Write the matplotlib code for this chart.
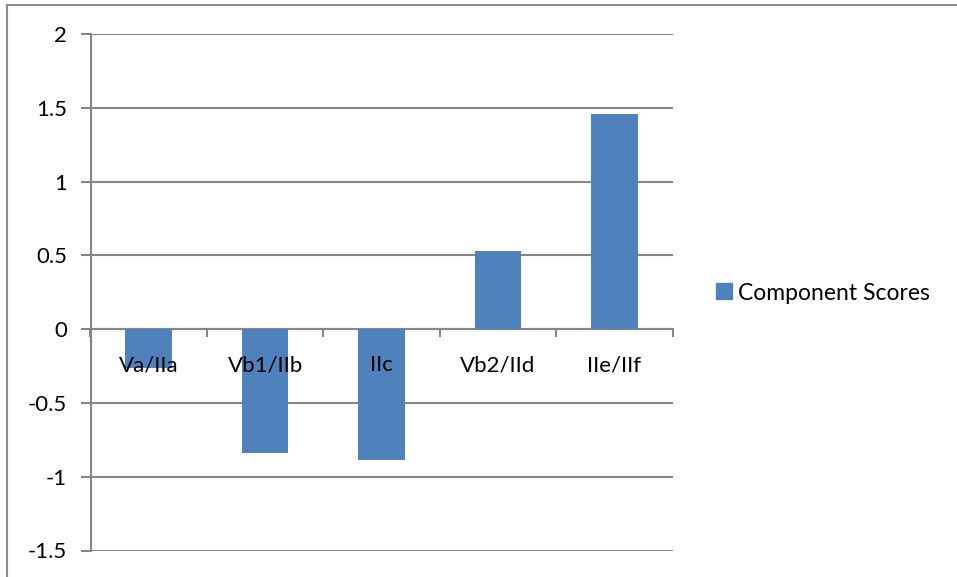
import numpy as np
import matplotlib.pyplot as plt
from matplotlib.lines import Line2D

categories = ['Va/IIa', 'Vb1/IIb', 'IIc', 'Vb2/IId', 'IIe/IIf']
scores = [-0.26, -0.84, -0.89, 0.53, 1.46]
yticks = [-1.5, -1, -0.5, 0, 0.5, 1, 1.5, 2]
ytick_labels = ['-1.5', '-1', '-0.5', '0', '0.5', '1', '1.5', '2']

bar_color = '#4F81BD'
grid_color = '#868686'
plt.rcParams['font.family'] = ['Lato', 'DejaVu Sans']
fs = 16

W, H = 957, 577
fig = plt.figure(figsize=(W / 100, H / 100), dpi=100)
# plot area in pixel units
left, right, top, bottom = 90.5, 672.5, 34.0, 550.5
ax = fig.add_axes([left / W, 1 - bottom / H, (right - left) / W, (bottom - top) / H])

x = np.arange(len(categories))
ax.bar(x, scores, width=0.4, color=bar_color, zorder=3)

ax.set_xlim(-0.5, len(categories) - 0.5)
ax.set_ylim(-1.5, 2)
ax.set_yticks(yticks)
ax.set_yticklabels(ytick_labels, fontsize=fs)
ax.yaxis.grid(True, color=grid_color, linewidth=1.5, zorder=0)

# category axis sits at zero, tick marks between categories
for s in ['top', 'right']:
    ax.spines[s].set_visible(False)
ax.spines['bottom'].set_position(('data', 0))
ax.spines['bottom'].set_color(grid_color)
ax.spines['bottom'].set_linewidth(1.5)
ax.spines['left'].set_color(grid_color)
ax.spines['left'].set_linewidth(1.5)
ax.set_xticks(np.arange(len(categories) + 1) - 0.5)
ax.set_xticklabels([])
ax.tick_params(axis='x', length=6, width=1.5, color=grid_color, direction='out')
ax.tick_params(axis='y', length=7, width=1.5, color=grid_color, pad=10)

# category names drawn on top of the bars
for xi, name in zip(x, categories):
    ax.annotate(name, (xi, 0), xytext=(0, -26), textcoords='offset points',
                ha='center', va='center', fontsize=fs, zorder=5)

# legend
handle = Line2D([], [], marker='s', linestyle='none', markersize=11,
                markerfacecolor=bar_color, markeredgecolor=bar_color)
fig.legend([handle], ['Component Scores'], loc='center left',
           bbox_to_anchor=(701 / W, 1 - 293 / H), frameon=False,
           fontsize=16.5, handletextpad=0.1, borderpad=0, handlelength=1.0)

# chart area border (top and left edges)
fig.add_artist(Line2D([7 / W, 7 / W], [0, 1 - 5 / H], color='#8c8c8c', linewidth=1.5))
fig.add_artist(Line2D([7 / W, 1], [1 - 5 / H, 1 - 5 / H], color='#8c8c8c', linewidth=1.5))

fig.savefig('out.png', dpi=100)
